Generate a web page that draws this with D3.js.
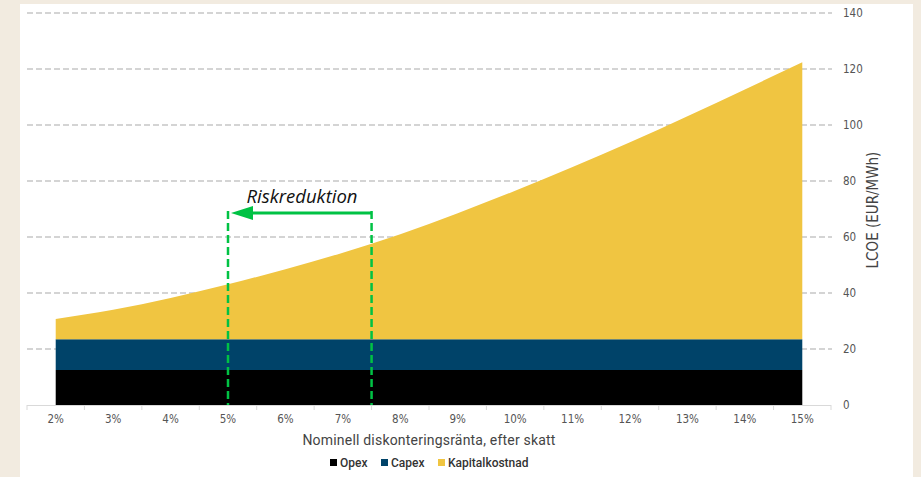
<!DOCTYPE html>
<html>
<head>
<meta charset="utf-8">
<script src="https://cdn.jsdelivr.net/npm/d3@7"></script>
<style>
  body { margin: 0; background: #f2ebe0; }
  svg { display: block; }
</style>
</head>
<body>
<script>
// categories on the x axis
const rates = ["2%", "3%", "4%", "5%", "6%", "7%", "8%", "9%", "10%", "11%", "12%", "13%", "14%", "15%"];
// cost components, EUR/MWh
const opex = [12.5, 12.5, 12.5, 12.5, 12.5, 12.5, 12.5, 12.5, 12.5, 12.5, 12.5, 12.5, 12.5, 12.5];
const capex = [11, 11, 11, 11, 11, 11, 11, 11, 11, 11, 11, 11, 11, 11];
const kapital = [7.2, 10.5, 14.7, 19.6, 25.0, 30.9, 37.5, 45.0, 53.0, 61.5, 70.3, 79.6, 89.2, 98.9];
const yTicks = [0, 20, 40, 60, 80, 100, 120, 140];
const seriesNames = ["Opex", "Capex", "Kapitalkostnad"];
const colors = ["#000000", "#004369", "#f0c541"];
// annotation: arrow from 7.5% back to 5%
const riskFrom = 7.5, riskTo = 5;

const W = 921, H = 477;
const svg = d3.select("body").append("svg")
    .attr("width", W)
    .attr("height", H);

// white panel
svg.append("rect")
    .attr("x", 20).attr("y", 4)
    .attr("width", 893).attr("height", H - 4)
    .attr("fill", "#fff");

const x = d3.scaleBand().domain(rates).range([27, 831]);
const cx = d => x(d) + x.bandwidth() / 2;
const y = d3.scaleLinear().domain([0, 140]).range([405, 13]);
// numeric rate -> pixel (for the annotation)
const xr = v => cx("2%") + (v - 2) * x.step();

const font = "'Liberation Sans Narrow', 'DejaVu Sans Condensed', sans-serif";

// gridlines
svg.append("g")
    .selectAll("line")
    .data(yTicks.filter(d => d > 0))
    .enter()
    .append("line")
    .attr("x1", 27).attr("x2", 832)
    .attr("y1", d => y(d)).attr("y2", d => y(d))
    .attr("stroke", "#c6c6c6")
    .attr("stroke-width", 1.3)
    .attr("stroke-dasharray", "6,3");

// stacked areas
const table = rates.map((r, i) => ({ rate: r, Opex: opex[i], Capex: capex[i], Kapitalkostnad: kapital[i] }));
const stacked = d3.stack().keys(seriesNames)(table);

const area = d3.area()
    .x(d => cx(d.data.rate))
    .y0(d => y(d[0]))
    .y1(d => y(d[1]))
    .curve(d3.curveMonotoneX);

svg.append("g")
    .selectAll("path")
    .data(stacked)
    .enter()
    .append("path")
    .attr("d", area)
    .attr("fill", (d, i) => colors[i]);

// x axis line + boundary ticks
svg.append("line")
    .attr("x1", 27).attr("x2", 831)
    .attr("y1", 405.5).attr("y2", 405.5)
    .attr("stroke", "#d9d9d9");

const bounds = rates.map(r => x(r)).concat([x.range()[1]]);
svg.append("g")
    .selectAll("line")
    .data(bounds)
    .enter()
    .append("line")
    .attr("x1", d => d).attr("x2", d => d)
    .attr("y1", 405).attr("y2", 410)
    .attr("stroke", "#d9d9d9");

svg.append("g")
    .selectAll("text")
    .data(rates)
    .enter()
    .append("text")
    .attr("x", d => cx(d))
    .attr("y", 423)
    .attr("text-anchor", "middle")
    .style("font-family", font)
    .style("font-size", "11.5px")
    .attr("fill", "#555")
    .text(d => d);

// right y labels
svg.append("g")
    .selectAll("text")
    .data(yTicks)
    .enter()
    .append("text")
    .attr("x", 843)
    .attr("y", d => y(d) + 4)
    .style("font-family", font)
    .style("font-size", "11.5px")
    .attr("fill", "#555")
    .text(d => d);

svg.append("text")
    .attr("transform", "translate(878,210) rotate(-90)")
    .attr("text-anchor", "middle")
    .style("font-family", font)
    .style("font-size", "15px")
    .attr("fill", "#444")
    .text("LCOE (EUR/MWh)");

svg.append("text")
    .attr("x", 429)
    .attr("y", 445)
    .attr("text-anchor", "middle")
    .style("font-family", "Roboto, sans-serif")
    .style("font-size", "14px")
    .style("letter-spacing", "0.2px")
    .attr("fill", "#444")
    .text("Nominell diskonteringsränta, efter skatt");

// annotation
const green = "#00c244";
svg.append("g")
    .selectAll("line")
    .data([riskTo, riskFrom])
    .enter()
    .append("line")
    .attr("x1", d => xr(d)).attr("x2", d => xr(d))
    .attr("y1", 211).attr("y2", 405)
    .attr("stroke", green)
    .attr("stroke-width", 2.5)
    .attr("stroke-dasharray", "8,4");

svg.append("line")
    .attr("x1", xr(riskFrom)).attr("x2", xr(riskTo) + 20)
    .attr("y1", 213).attr("y2", 213)
    .attr("stroke", green)
    .attr("stroke-width", 3);

svg.append("path")
    .attr("d", `M${xr(riskTo) + 3},213 L${xr(riskTo) + 25},206 L${xr(riskTo) + 25},220 Z`)
    .attr("fill", green);

svg.append("text")
    .attr("x", 302)
    .attr("y", 203)
    .attr("text-anchor", "middle")
    .style("font-family", "'Open Sans', sans-serif")
    .style("font-style", "italic")
    .style("font-size", "18.5px")
    .attr("fill", "#111")
    .text("Riskreduktion");

// legend
const legendX = [330, 381, 438];
const legend = svg.append("g")
    .selectAll("g")
    .data(seriesNames)
    .enter()
    .append("g")
    .attr("transform", (d, i) => `translate(${legendX[i]},463)`);

legend.append("rect")
    .attr("x", 0).attr("y", -4)
    .attr("width", 7).attr("height", 7)
    .attr("fill", (d, i) => colors[i]);

legend.append("text")
    .attr("x", 10)
    .attr("y", 4)
    .style("font-family", "Roboto, sans-serif")
    .style("font-size", "12px")
    .style("font-weight", 500)
    .attr("fill", "#333")
    .text(d => d);
</script>
</body>
</html>
